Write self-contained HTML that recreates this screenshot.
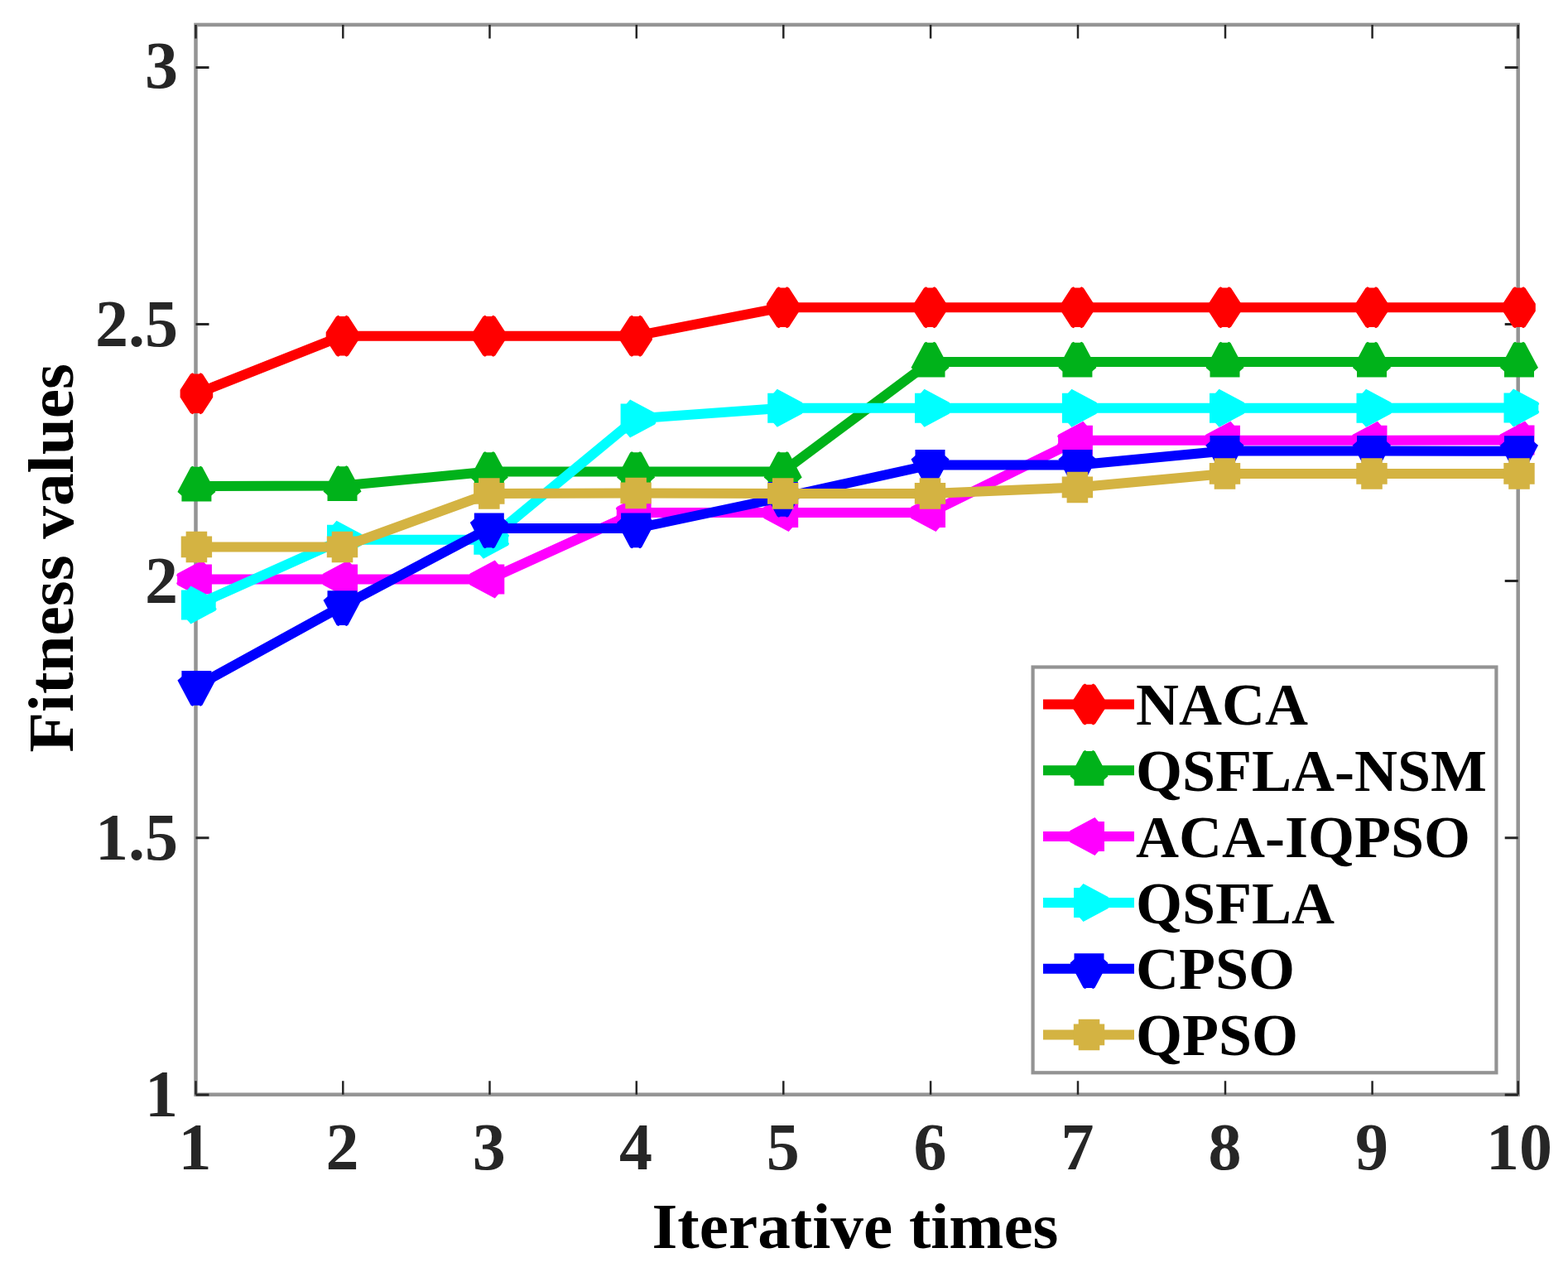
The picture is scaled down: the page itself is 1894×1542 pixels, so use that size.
<!DOCTYPE html><html><head><meta charset="utf-8"><title>Fitness values vs Iterative times</title><style>html,body{margin:0;padding:0;background:#fff;}svg{display:block;}text{font-family:"Liberation Serif","Times New Roman",serif;font-weight:bold;}</style></head><body>
<svg width="1894" height="1542" viewBox="0 0 1894 1542">
<rect width="1894" height="1542" fill="#fff"/>
<rect x="236.5" y="29.9" width="1597.2" height="1291.8" fill="none" stroke="#949494" stroke-width="4.5"/>
<path d="M236.5,1322.0h16M1833.7,1322.0h-16M236.5,1011.8h16M1833.7,1011.8h-16M236.5,701.6h16M1833.7,701.6h-16M236.5,391.6h16M1833.7,391.6h-16M236.5,81.5h16M1833.7,81.5h-16" stroke="#262626" stroke-width="3" fill="none"/>
<path d="M236.5,1321.7v-16.5M236.5,29.9v16.5M414.3,1321.7v-16.5M414.3,29.9v16.5M591.5,1321.7v-16.5M591.5,29.9v16.5M768.8,1321.7v-16.5M768.8,29.9v16.5M946.3,1321.7v-16.5M946.3,29.9v16.5M1124.1,1321.7v-16.5M1124.1,29.9v16.5M1302.0,1321.7v-16.5M1302.0,29.9v16.5M1480.0,1321.7v-16.5M1480.0,29.9v16.5M1657.6,1321.7v-16.5M1657.6,29.9v16.5M1833.7,1321.7v-16.5M1833.7,29.9v16.5" stroke="#262626" stroke-width="2.5" fill="none"/>
<g fill="#262626" font-size="80" text-anchor="end">
<text x="215" y="1348.0">1</text>
<text x="215" y="1037.8">1.5</text>
<text x="215" y="727.6">2</text>
<text x="215" y="417.6">2.5</text>
<text x="215" y="106.3">3</text>
</g>
<g fill="#262626" font-size="80" text-anchor="middle">
<text x="235.4" y="1412">1</text>
<text x="413.5" y="1412">2</text>
<text x="590.8" y="1412">3</text>
<text x="768.1" y="1412">4</text>
<text x="945.7" y="1412">5</text>
<text x="1123.5" y="1412">6</text>
<text x="1301.4" y="1412">7</text>
<text x="1479.5" y="1412">8</text>
<text x="1657.0" y="1412">9</text>
<text x="1835.0" y="1412">10</text>
</g>
<text x="1033" y="1506.5" font-size="79.3" text-anchor="middle" fill="#000">Iterative times</text>
<text transform="translate(88,673.8) rotate(-90)" font-size="79.3" text-anchor="middle" fill="#000">Fitness values</text>
<path d="M237.4,475.3 L413.5,405.7 L590.8,405.7 L768.1,405.7 L945.7,371.2 L1123.5,371.2 L1301.4,371.2 L1479.5,371.2 L1657.0,371.2 L1835.0,371.3" stroke="#ff0000" stroke-width="12" fill="none" stroke-linejoin="round"/>
<polygon points="229.9,451.8 232.4,450.3 234.4,451.5 240.4,451.5 242.4,450.3 244.9,451.8 257.2,470.8 257.2,479.8 244.9,498.8 242.4,500.3 240.4,499.1 234.4,499.1 232.4,500.3 229.9,498.8 217.6,479.8 217.6,470.8" fill="#ff0000"/>
<polygon points="406.0,382.2 408.5,380.7 410.5,381.9 416.5,381.9 418.5,380.7 421.0,382.2 433.3,401.2 433.3,410.2 421.0,429.2 418.5,430.7 416.5,429.5 410.5,429.5 408.5,430.7 406.0,429.2 393.7,410.2 393.7,401.2" fill="#ff0000"/>
<polygon points="583.3,382.2 585.8,380.7 587.8,381.9 593.8,381.9 595.8,380.7 598.3,382.2 610.6,401.2 610.6,410.2 598.3,429.2 595.8,430.7 593.8,429.5 587.8,429.5 585.8,430.7 583.3,429.2 571.0,410.2 571.0,401.2" fill="#ff0000"/>
<polygon points="760.6,382.2 763.1,380.7 765.1,381.9 771.1,381.9 773.1,380.7 775.6,382.2 787.9,401.2 787.9,410.2 775.6,429.2 773.1,430.7 771.1,429.5 765.1,429.5 763.1,430.7 760.6,429.2 748.3,410.2 748.3,401.2" fill="#ff0000"/>
<polygon points="938.2,347.7 940.7,346.2 942.7,347.4 948.7,347.4 950.7,346.2 953.2,347.7 965.5,366.7 965.5,375.7 953.2,394.7 950.7,396.2 948.7,395.0 942.7,395.0 940.7,396.2 938.2,394.7 925.9,375.7 925.9,366.7" fill="#ff0000"/>
<polygon points="1116.0,347.7 1118.5,346.2 1120.5,347.4 1126.5,347.4 1128.5,346.2 1131.0,347.7 1143.3,366.7 1143.3,375.7 1131.0,394.7 1128.5,396.2 1126.5,395.0 1120.5,395.0 1118.5,396.2 1116.0,394.7 1103.7,375.7 1103.7,366.7" fill="#ff0000"/>
<polygon points="1293.9,347.7 1296.4,346.2 1298.4,347.4 1304.4,347.4 1306.4,346.2 1308.9,347.7 1321.2,366.7 1321.2,375.7 1308.9,394.7 1306.4,396.2 1304.4,395.0 1298.4,395.0 1296.4,396.2 1293.9,394.7 1281.6,375.7 1281.6,366.7" fill="#ff0000"/>
<polygon points="1472.0,347.7 1474.5,346.2 1476.5,347.4 1482.5,347.4 1484.5,346.2 1487.0,347.7 1499.3,366.7 1499.3,375.7 1487.0,394.7 1484.5,396.2 1482.5,395.0 1476.5,395.0 1474.5,396.2 1472.0,394.7 1459.7,375.7 1459.7,366.7" fill="#ff0000"/>
<polygon points="1649.5,347.7 1652.0,346.2 1654.0,347.4 1660.0,347.4 1662.0,346.2 1664.5,347.7 1676.8,366.7 1676.8,375.7 1664.5,394.7 1662.0,396.2 1660.0,395.0 1654.0,395.0 1652.0,396.2 1649.5,394.7 1637.2,375.7 1637.2,366.7" fill="#ff0000"/>
<polygon points="1827.5,347.8 1830.0,346.3 1832.0,347.5 1838.0,347.5 1840.0,346.3 1842.5,347.8 1854.8,366.8 1854.8,375.8 1842.5,394.8 1840.0,396.3 1838.0,395.1 1832.0,395.1 1830.0,396.3 1827.5,394.8 1815.2,375.8 1815.2,366.8" fill="#ff0000"/>
<path d="M237.4,587.0 L413.5,586.5 L590.8,569.5 L768.1,569.5 L945.7,569.5 L1123.5,437.0 L1301.4,437.0 L1479.5,437.0 L1657.0,437.0 L1835.0,437.0" stroke="#00b21a" stroke-width="12" fill="none" stroke-linejoin="round"/>
<polygon points="230.4,564.0 232.4,562.7 234.4,563.7 240.4,563.7 242.4,562.7 244.4,564.0 260.4,594.0 256.9,597.0 255.4,598.5 255.4,605.5 219.4,605.5 219.4,598.5 217.9,597.0 214.4,594.0" fill="#00b21a"/>
<polygon points="406.5,563.5 408.5,562.2 410.5,563.2 416.5,563.2 418.5,562.2 420.5,563.5 436.5,593.5 433.0,596.5 431.5,598.0 431.5,605.0 395.5,605.0 395.5,598.0 394.0,596.5 390.5,593.5" fill="#00b21a"/>
<polygon points="583.8,546.5 585.8,545.2 587.8,546.2 593.8,546.2 595.8,545.2 597.8,546.5 613.8,576.5 610.3,579.5 608.8,581.0 608.8,588.0 572.8,588.0 572.8,581.0 571.3,579.5 567.8,576.5" fill="#00b21a"/>
<polygon points="761.1,546.5 763.1,545.2 765.1,546.2 771.1,546.2 773.1,545.2 775.1,546.5 791.1,576.5 787.6,579.5 786.1,581.0 786.1,588.0 750.1,588.0 750.1,581.0 748.6,579.5 745.1,576.5" fill="#00b21a"/>
<polygon points="938.7,546.5 940.7,545.2 942.7,546.2 948.7,546.2 950.7,545.2 952.7,546.5 968.7,576.5 965.2,579.5 963.7,581.0 963.7,588.0 927.7,588.0 927.7,581.0 926.2,579.5 922.7,576.5" fill="#00b21a"/>
<polygon points="1116.5,414.0 1118.5,412.7 1120.5,413.7 1126.5,413.7 1128.5,412.7 1130.5,414.0 1146.5,444.0 1143.0,447.0 1141.5,448.5 1141.5,455.5 1105.5,455.5 1105.5,448.5 1104.0,447.0 1100.5,444.0" fill="#00b21a"/>
<polygon points="1294.4,414.0 1296.4,412.7 1298.4,413.7 1304.4,413.7 1306.4,412.7 1308.4,414.0 1324.4,444.0 1320.9,447.0 1319.4,448.5 1319.4,455.5 1283.4,455.5 1283.4,448.5 1281.9,447.0 1278.4,444.0" fill="#00b21a"/>
<polygon points="1472.5,414.0 1474.5,412.7 1476.5,413.7 1482.5,413.7 1484.5,412.7 1486.5,414.0 1502.5,444.0 1499.0,447.0 1497.5,448.5 1497.5,455.5 1461.5,455.5 1461.5,448.5 1460.0,447.0 1456.5,444.0" fill="#00b21a"/>
<polygon points="1650.0,414.0 1652.0,412.7 1654.0,413.7 1660.0,413.7 1662.0,412.7 1664.0,414.0 1680.0,444.0 1676.5,447.0 1675.0,448.5 1675.0,455.5 1639.0,455.5 1639.0,448.5 1637.5,447.0 1634.0,444.0" fill="#00b21a"/>
<polygon points="1828.0,414.0 1830.0,412.7 1832.0,413.7 1838.0,413.7 1840.0,412.7 1842.0,414.0 1858.0,444.0 1854.5,447.0 1853.0,448.5 1853.0,455.5 1817.0,455.5 1817.0,448.5 1815.5,447.0 1812.0,444.0" fill="#00b21a"/>
<path d="M237.4,699.5 L413.5,699.5 L590.8,699.5 L768.1,619.0 L945.7,619.0 L1123.5,619.0 L1301.4,531.7 L1479.5,531.7 L1657.0,531.7 L1835.0,531.5" stroke="#ff00ff" stroke-width="12" fill="none" stroke-linejoin="round"/>
<polygon points="214.4,692.5 213.1,694.5 214.1,696.5 214.1,702.5 213.1,704.5 214.4,706.5 244.4,722.5 247.4,719.0 248.9,717.5 255.9,717.5 255.9,681.5 248.9,681.5 247.4,680.0 244.4,676.5" fill="#ff00ff"/>
<polygon points="390.5,692.5 389.2,694.5 390.2,696.5 390.2,702.5 389.2,704.5 390.5,706.5 420.5,722.5 423.5,719.0 425.0,717.5 432.0,717.5 432.0,681.5 425.0,681.5 423.5,680.0 420.5,676.5" fill="#ff00ff"/>
<polygon points="567.8,692.5 566.5,694.5 567.5,696.5 567.5,702.5 566.5,704.5 567.8,706.5 597.8,722.5 600.8,719.0 602.3,717.5 609.3,717.5 609.3,681.5 602.3,681.5 600.8,680.0 597.8,676.5" fill="#ff00ff"/>
<polygon points="745.1,612.0 743.8,614.0 744.8,616.0 744.8,622.0 743.8,624.0 745.1,626.0 775.1,642.0 778.1,638.5 779.6,637.0 786.6,637.0 786.6,601.0 779.6,601.0 778.1,599.5 775.1,596.0" fill="#ff00ff"/>
<polygon points="922.7,612.0 921.4,614.0 922.4,616.0 922.4,622.0 921.4,624.0 922.7,626.0 952.7,642.0 955.7,638.5 957.2,637.0 964.2,637.0 964.2,601.0 957.2,601.0 955.7,599.5 952.7,596.0" fill="#ff00ff"/>
<polygon points="1100.5,612.0 1099.2,614.0 1100.2,616.0 1100.2,622.0 1099.2,624.0 1100.5,626.0 1130.5,642.0 1133.5,638.5 1135.0,637.0 1142.0,637.0 1142.0,601.0 1135.0,601.0 1133.5,599.5 1130.5,596.0" fill="#ff00ff"/>
<polygon points="1278.4,524.7 1277.1,526.7 1278.1,528.7 1278.1,534.7 1277.1,536.7 1278.4,538.7 1308.4,554.7 1311.4,551.2 1312.9,549.7 1319.9,549.7 1319.9,513.7 1312.9,513.7 1311.4,512.2 1308.4,508.7" fill="#ff00ff"/>
<polygon points="1456.5,524.7 1455.2,526.7 1456.2,528.7 1456.2,534.7 1455.2,536.7 1456.5,538.7 1486.5,554.7 1489.5,551.2 1491.0,549.7 1498.0,549.7 1498.0,513.7 1491.0,513.7 1489.5,512.2 1486.5,508.7" fill="#ff00ff"/>
<polygon points="1634.0,524.7 1632.7,526.7 1633.7,528.7 1633.7,534.7 1632.7,536.7 1634.0,538.7 1664.0,554.7 1667.0,551.2 1668.5,549.7 1675.5,549.7 1675.5,513.7 1668.5,513.7 1667.0,512.2 1664.0,508.7" fill="#ff00ff"/>
<polygon points="1812.0,524.5 1810.7,526.5 1811.7,528.5 1811.7,534.5 1810.7,536.5 1812.0,538.5 1842.0,554.5 1845.0,551.0 1846.5,549.5 1853.5,549.5 1853.5,513.5 1846.5,513.5 1845.0,512.0 1842.0,508.5" fill="#ff00ff"/>
<path d="M237.4,730.5 L413.5,651.7 L590.8,651.7 L768.1,505.4 L945.7,492.7 L1123.5,492.7 L1301.4,492.7 L1479.5,492.7 L1657.0,492.7 L1835.0,492.5" stroke="#00ffff" stroke-width="12" fill="none" stroke-linejoin="round"/>
<polygon points="260.4,723.5 261.7,725.5 260.7,727.5 260.7,733.5 261.7,735.5 260.4,737.5 230.4,753.5 227.4,750.0 225.9,748.5 218.9,748.5 218.9,712.5 225.9,712.5 227.4,711.0 230.4,707.5" fill="#00ffff"/>
<polygon points="436.5,644.7 437.8,646.7 436.8,648.7 436.8,654.7 437.8,656.7 436.5,658.7 406.5,674.7 403.5,671.2 402.0,669.7 395.0,669.7 395.0,633.7 402.0,633.7 403.5,632.2 406.5,628.7" fill="#00ffff"/>
<polygon points="613.8,644.7 615.1,646.7 614.1,648.7 614.1,654.7 615.1,656.7 613.8,658.7 583.8,674.7 580.8,671.2 579.3,669.7 572.3,669.7 572.3,633.7 579.3,633.7 580.8,632.2 583.8,628.7" fill="#00ffff"/>
<polygon points="791.1,498.4 792.4,500.4 791.4,502.4 791.4,508.4 792.4,510.4 791.1,512.4 761.1,528.4 758.1,524.9 756.6,523.4 749.6,523.4 749.6,487.4 756.6,487.4 758.1,485.9 761.1,482.4" fill="#00ffff"/>
<polygon points="968.7,485.7 970.0,487.7 969.0,489.7 969.0,495.7 970.0,497.7 968.7,499.7 938.7,515.7 935.7,512.2 934.2,510.7 927.2,510.7 927.2,474.7 934.2,474.7 935.7,473.2 938.7,469.7" fill="#00ffff"/>
<polygon points="1146.5,485.7 1147.8,487.7 1146.8,489.7 1146.8,495.7 1147.8,497.7 1146.5,499.7 1116.5,515.7 1113.5,512.2 1112.0,510.7 1105.0,510.7 1105.0,474.7 1112.0,474.7 1113.5,473.2 1116.5,469.7" fill="#00ffff"/>
<polygon points="1324.4,485.7 1325.7,487.7 1324.7,489.7 1324.7,495.7 1325.7,497.7 1324.4,499.7 1294.4,515.7 1291.4,512.2 1289.9,510.7 1282.9,510.7 1282.9,474.7 1289.9,474.7 1291.4,473.2 1294.4,469.7" fill="#00ffff"/>
<polygon points="1502.5,485.7 1503.8,487.7 1502.8,489.7 1502.8,495.7 1503.8,497.7 1502.5,499.7 1472.5,515.7 1469.5,512.2 1468.0,510.7 1461.0,510.7 1461.0,474.7 1468.0,474.7 1469.5,473.2 1472.5,469.7" fill="#00ffff"/>
<polygon points="1680.0,485.7 1681.3,487.7 1680.3,489.7 1680.3,495.7 1681.3,497.7 1680.0,499.7 1650.0,515.7 1647.0,512.2 1645.5,510.7 1638.5,510.7 1638.5,474.7 1645.5,474.7 1647.0,473.2 1650.0,469.7" fill="#00ffff"/>
<polygon points="1858.0,485.5 1859.3,487.5 1858.3,489.5 1858.3,495.5 1859.3,497.5 1858.0,499.5 1828.0,515.5 1825.0,512.0 1823.5,510.5 1816.5,510.5 1816.5,474.5 1823.5,474.5 1825.0,473.0 1828.0,469.5" fill="#00ffff"/>
<path d="M237.4,828.5 L413.5,731.7 L590.8,638.0 L768.1,638.0 L945.7,600.5 L1123.5,561.5 L1301.4,561.5 L1479.5,544.5 L1657.0,544.5 L1835.0,544.8" stroke="#0000ff" stroke-width="12" fill="none" stroke-linejoin="round"/>
<polygon points="230.4,851.5 232.4,852.8 234.4,851.8 240.4,851.8 242.4,852.8 244.4,851.5 260.4,821.5 256.9,818.5 255.4,817.0 255.4,810.0 219.4,810.0 219.4,817.0 217.9,818.5 214.4,821.5" fill="#0000ff"/>
<polygon points="406.5,754.7 408.5,756.0 410.5,755.0 416.5,755.0 418.5,756.0 420.5,754.7 436.5,724.7 433.0,721.7 431.5,720.2 431.5,713.2 395.5,713.2 395.5,720.2 394.0,721.7 390.5,724.7" fill="#0000ff"/>
<polygon points="583.8,661.0 585.8,662.3 587.8,661.3 593.8,661.3 595.8,662.3 597.8,661.0 613.8,631.0 610.3,628.0 608.8,626.5 608.8,619.5 572.8,619.5 572.8,626.5 571.3,628.0 567.8,631.0" fill="#0000ff"/>
<polygon points="761.1,661.0 763.1,662.3 765.1,661.3 771.1,661.3 773.1,662.3 775.1,661.0 791.1,631.0 787.6,628.0 786.1,626.5 786.1,619.5 750.1,619.5 750.1,626.5 748.6,628.0 745.1,631.0" fill="#0000ff"/>
<polygon points="938.7,623.5 940.7,624.8 942.7,623.8 948.7,623.8 950.7,624.8 952.7,623.5 968.7,593.5 965.2,590.5 963.7,589.0 963.7,582.0 927.7,582.0 927.7,589.0 926.2,590.5 922.7,593.5" fill="#0000ff"/>
<polygon points="1116.5,584.5 1118.5,585.8 1120.5,584.8 1126.5,584.8 1128.5,585.8 1130.5,584.5 1146.5,554.5 1143.0,551.5 1141.5,550.0 1141.5,543.0 1105.5,543.0 1105.5,550.0 1104.0,551.5 1100.5,554.5" fill="#0000ff"/>
<polygon points="1294.4,584.5 1296.4,585.8 1298.4,584.8 1304.4,584.8 1306.4,585.8 1308.4,584.5 1324.4,554.5 1320.9,551.5 1319.4,550.0 1319.4,543.0 1283.4,543.0 1283.4,550.0 1281.9,551.5 1278.4,554.5" fill="#0000ff"/>
<polygon points="1472.5,567.5 1474.5,568.8 1476.5,567.8 1482.5,567.8 1484.5,568.8 1486.5,567.5 1502.5,537.5 1499.0,534.5 1497.5,533.0 1497.5,526.0 1461.5,526.0 1461.5,533.0 1460.0,534.5 1456.5,537.5" fill="#0000ff"/>
<polygon points="1650.0,567.5 1652.0,568.8 1654.0,567.8 1660.0,567.8 1662.0,568.8 1664.0,567.5 1680.0,537.5 1676.5,534.5 1675.0,533.0 1675.0,526.0 1639.0,526.0 1639.0,533.0 1637.5,534.5 1634.0,537.5" fill="#0000ff"/>
<polygon points="1828.0,567.8 1830.0,569.1 1832.0,568.1 1838.0,568.1 1840.0,569.1 1842.0,567.8 1858.0,537.8 1854.5,534.8 1853.0,533.3 1853.0,526.3 1817.0,526.3 1817.0,533.3 1815.5,534.8 1812.0,537.8" fill="#0000ff"/>
<path d="M237.4,660.5 L413.5,660.5 L590.8,596.0 L768.1,595.5 L945.7,596.0 L1123.5,596.0 L1301.4,588.5 L1479.5,572.0 L1657.0,572.0 L1835.0,572.0" stroke="#d4b342" stroke-width="12" fill="none" stroke-linejoin="round"/>
<polygon points="224.6,641.7 250.2,641.7 250.2,647.5 256.1,647.5 256.1,673.3 250.2,673.3 250.2,679.3 224.6,679.3 224.6,673.3 218.7,673.3 218.7,647.5 224.6,647.5" fill="#d4b342"/>
<polygon points="400.7,641.7 426.3,641.7 426.3,647.5 432.2,647.5 432.2,673.3 426.3,673.3 426.3,679.3 400.7,679.3 400.7,673.3 394.8,673.3 394.8,647.5 400.7,647.5" fill="#d4b342"/>
<polygon points="578.0,577.2 603.6,577.2 603.6,583.0 609.5,583.0 609.5,608.8 603.6,608.8 603.6,614.8 578.0,614.8 578.0,608.8 572.1,608.8 572.1,583.0 578.0,583.0" fill="#d4b342"/>
<polygon points="755.3,576.7 780.9,576.7 780.9,582.5 786.8,582.5 786.8,608.3 780.9,608.3 780.9,614.3 755.3,614.3 755.3,608.3 749.4,608.3 749.4,582.5 755.3,582.5" fill="#d4b342"/>
<polygon points="932.9,577.2 958.5,577.2 958.5,583.0 964.4,583.0 964.4,608.8 958.5,608.8 958.5,614.8 932.9,614.8 932.9,608.8 927.0,608.8 927.0,583.0 932.9,583.0" fill="#d4b342"/>
<polygon points="1110.7,577.2 1136.3,577.2 1136.3,583.0 1142.2,583.0 1142.2,608.8 1136.3,608.8 1136.3,614.8 1110.7,614.8 1110.7,608.8 1104.8,608.8 1104.8,583.0 1110.7,583.0" fill="#d4b342"/>
<polygon points="1288.6,569.7 1314.2,569.7 1314.2,575.5 1320.1,575.5 1320.1,601.3 1314.2,601.3 1314.2,607.3 1288.6,607.3 1288.6,601.3 1282.7,601.3 1282.7,575.5 1288.6,575.5" fill="#d4b342"/>
<polygon points="1466.7,553.2 1492.3,553.2 1492.3,559.0 1498.2,559.0 1498.2,584.8 1492.3,584.8 1492.3,590.8 1466.7,590.8 1466.7,584.8 1460.8,584.8 1460.8,559.0 1466.7,559.0" fill="#d4b342"/>
<polygon points="1644.2,553.2 1669.8,553.2 1669.8,559.0 1675.7,559.0 1675.7,584.8 1669.8,584.8 1669.8,590.8 1644.2,590.8 1644.2,584.8 1638.3,584.8 1638.3,559.0 1644.2,559.0" fill="#d4b342"/>
<polygon points="1822.2,553.2 1847.8,553.2 1847.8,559.0 1853.7,559.0 1853.7,584.8 1847.8,584.8 1847.8,590.8 1822.2,590.8 1822.2,584.8 1816.3,584.8 1816.3,559.0 1822.2,559.0" fill="#d4b342"/>
<rect x="1247.6" y="805.5" width="559.8000000000002" height="489.79999999999995" fill="#fff" stroke="#939393" stroke-width="4.2"/>
<path d="M1260,850.5H1370" stroke="#ff0000" stroke-width="12"/>
<polygon points="1308.0,827.0 1310.5,825.5 1312.5,826.7 1318.5,826.7 1320.5,825.5 1323.0,827.0 1335.3,846.0 1335.3,855.0 1323.0,874.0 1320.5,875.5 1318.5,874.3 1312.5,874.3 1310.5,875.5 1308.0,874.0 1295.7,855.0 1295.7,846.0" fill="#ff0000"/>
<text x="1372" y="875.1" font-size="72" fill="#000">NACA</text>
<path d="M1260,930.3H1370" stroke="#00b21a" stroke-width="12"/>
<polygon points="1308.5,907.3 1310.5,906.0 1312.5,907.0 1318.5,907.0 1320.5,906.0 1322.5,907.3 1338.5,937.3 1335.0,940.3 1333.5,941.8 1333.5,948.8 1297.5,948.8 1297.5,941.8 1296.0,940.3 1292.5,937.3" fill="#00b21a"/>
<text x="1372" y="954.9" font-size="72" fill="#000">QSFLA-NSM</text>
<path d="M1260,1010.1H1370" stroke="#ff00ff" stroke-width="12"/>
<polygon points="1292.5,1003.1 1291.2,1005.1 1292.2,1007.1 1292.2,1013.1 1291.2,1015.1 1292.5,1017.1 1322.5,1033.1 1325.5,1029.6 1327.0,1028.1 1334.0,1028.1 1334.0,992.1 1327.0,992.1 1325.5,990.6 1322.5,987.1" fill="#ff00ff"/>
<text x="1372" y="1034.7" font-size="72" fill="#000">ACA-IQPSO</text>
<path d="M1260,1089.9H1370" stroke="#00ffff" stroke-width="12"/>
<polygon points="1338.5,1082.9 1339.8,1084.9 1338.8,1086.9 1338.8,1092.9 1339.8,1094.9 1338.5,1096.9 1308.5,1112.9 1305.5,1109.4 1304.0,1107.9 1297.0,1107.9 1297.0,1071.9 1304.0,1071.9 1305.5,1070.4 1308.5,1066.9" fill="#00ffff"/>
<text x="1372" y="1114.5" font-size="72" fill="#000">QSFLA</text>
<path d="M1260,1169.7H1370" stroke="#0000ff" stroke-width="12"/>
<polygon points="1308.5,1192.7 1310.5,1194.0 1312.5,1193.0 1318.5,1193.0 1320.5,1194.0 1322.5,1192.7 1338.5,1162.7 1335.0,1159.7 1333.5,1158.2 1333.5,1151.2 1297.5,1151.2 1297.5,1158.2 1296.0,1159.7 1292.5,1162.7" fill="#0000ff"/>
<text x="1372" y="1194.3" font-size="72" fill="#000">CPSO</text>
<path d="M1260,1249.5H1370" stroke="#d4b342" stroke-width="12"/>
<polygon points="1302.7,1230.7 1328.3,1230.7 1328.3,1236.5 1334.2,1236.5 1334.2,1262.3 1328.3,1262.3 1328.3,1268.3 1302.7,1268.3 1302.7,1262.3 1296.8,1262.3 1296.8,1236.5 1302.7,1236.5" fill="#d4b342"/>
<text x="1372" y="1274.1" font-size="72" fill="#000">QPSO</text>
</svg></body></html>
